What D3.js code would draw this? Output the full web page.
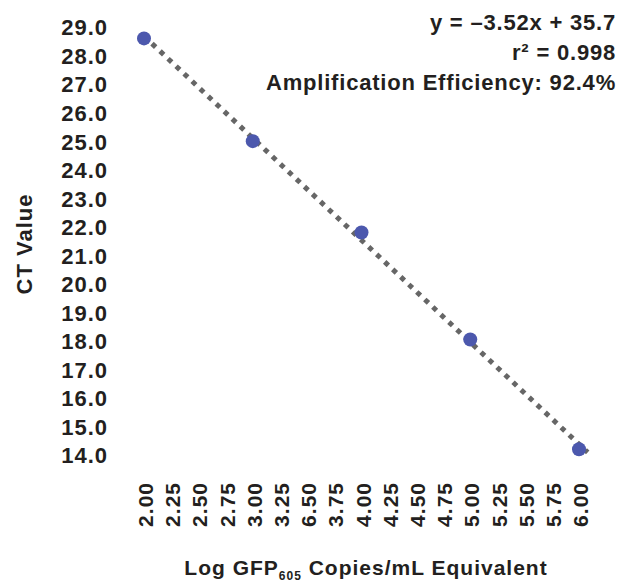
<!DOCTYPE html>
<html>
<head>
    <meta charset="utf-8">
    <style>
        body { margin: 0; padding: 0; overflow: hidden; background-color: #fff; }
        text { font-family: "Liberation Sans", Arial, sans-serif; font-weight: bold; fill: #231f20; }
    </style>
</head>
<body>
    <div id="chart"></div>
    <script src="https://d3js.org/d3.v7.min.js"></script>
    <script>
        // data
        var logCopies = [2.00, 3.00, 4.00, 5.00, 6.00];
        var ctValues = [28.6, 25.0, 21.8, 18.05, 14.2];
        var xTicks = [2.00, 2.25, 2.50, 2.75, 3.00, 3.25, 3.50, 3.75, 4.00, 4.25, 4.50, 4.75, 5.00, 5.25, 5.50, 5.75, 6.00];
        var xTickLabels = ["2.00", "2.25", "2.50", "2.75", "3.00", "3.25", "6.50", "3.75", "4.00", "4.25", "4.50", "4.75", "5.00", "5.25", "5.50", "5.75", "6.00"];
        var yTicks = [14, 15, 16, 17, 18, 19, 20, 21, 22, 23, 24, 25, 26, 27, 28, 29];
        var annotations = ["y = \u20133.52x + 35.7", "r\u00b2 = 0.998", "Amplification Efficiency: 92.4%"];

        var width = 621, height = 583;

        var svg = d3.select("#chart").append("svg")
            .attr("width", width)
            .attr("height", height);

        var x = d3.scaleLinear().domain([2, 6]).range([144, 579]);
        var y = d3.scaleLinear().domain([14, 29]).range([455, 27]);

        // y axis labels
        var yAxis = d3.axisLeft(y)
            .tickValues(yTicks)
            .tickFormat(d3.format(".1f"))
            .tickSize(0)
            .tickPadding(0);
        var gy = svg.append("g")
            .attr("transform", "translate(108,0)")
            .call(yAxis);
        gy.select(".domain").remove();
        gy.selectAll("text")
            .attr("font-size", 22)
            .attr("font-family", null)
            .attr("letter-spacing", 1)
            .attr("dy", "0.36em");

        // x axis labels (rotated)
        var xAxis = d3.axisBottom(x)
            .tickValues(xTicks)
            .tickFormat(function(d, i) { return xTickLabels[i]; })
            .tickSize(0);
        var gx = svg.append("g")
            .attr("transform", "translate(1,482)")
            .call(xAxis);
        gx.select(".domain").remove();
        gx.selectAll("text")
            .attr("font-size", 21)
            .attr("font-family", null)
            .attr("letter-spacing", 1)
            .attr("transform", "rotate(-90)")
            .attr("text-anchor", "end")
            .attr("x", 0)
            .attr("y", 0)
            .attr("dy", "0.36em");

        // regression line from the points
        var mx = d3.mean(logCopies), my = d3.mean(ctValues);
        var sxy = d3.sum(logCopies, function(v, i) { return (v - mx) * (ctValues[i] - my); });
        var sxx = d3.sum(logCopies, function(v) { return (v - mx) * (v - mx); });
        var slope = sxy / sxx, icpt = my - slope * mx;
        var fitX = [2.0, 6.08];

        svg.append("line")
            .attr("x1", x(fitX[0]))
            .attr("y1", y(slope * fitX[0] + icpt))
            .attr("x2", x(fitX[1]))
            .attr("y2", y(slope * fitX[1] + icpt))
            .attr("stroke", "#666")
            .attr("stroke-width", 5)
            .attr("stroke-dasharray", "5,6");

        svg.append("g").selectAll("circle")
            .data(logCopies)
            .enter().append("circle")
            .attr("cx", function(d) { return x(d); })
            .attr("cy", function(d, i) { return y(ctValues[i]); })
            .attr("r", 7)
            .attr("fill", "#4c58ad");

        // annotation block
        svg.append("g").selectAll("text")
            .data(annotations)
            .enter().append("text")
            .attr("x", 616)
            .attr("y", function(d, i) { return 30 + i * 30; })
            .attr("text-anchor", "end")
            .attr("font-size", 22)
            .attr("letter-spacing", 0.8)
            .text(function(d) { return d; });

        // axis titles
        svg.append("text")
            .attr("transform", "translate(32,244) rotate(-90)")
            .attr("text-anchor", "middle")
            .attr("font-size", 22)
            .attr("letter-spacing", 1)
            .text("CT Value");

        var xt = svg.append("text")
            .attr("x", 366)
            .attr("y", 575)
            .attr("text-anchor", "middle")
            .attr("font-size", 21)
            .attr("letter-spacing", 1);
        xt.append("tspan").text("Log GFP");
        xt.append("tspan").attr("font-size", 12).attr("dy", 5).text("605");
        xt.append("tspan").attr("dy", -5).text(" Copies/mL Equivalent");
    </script>
</body>
</html>
